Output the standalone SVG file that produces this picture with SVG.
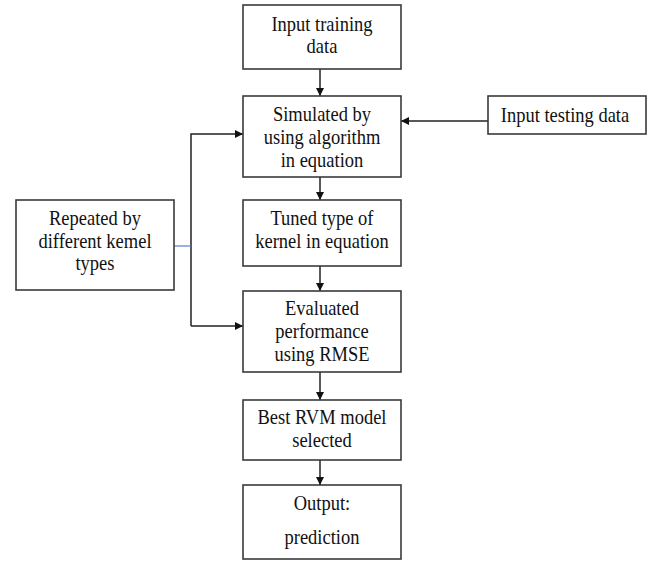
<svg xmlns="http://www.w3.org/2000/svg" width="649" height="563" viewBox="0 0 649 563">
<defs>
<style>
.box{fill:#fff;stroke:#3a3a3a;stroke-width:1.6}
.t{font-family:'Liberation Serif',Tinos,'Times New Roman',serif;font-size:18.5px;fill:#111;text-anchor:middle;transform-box:fill-box;transform-origin:center;transform:scaleY(1.14)}
.c{fill:none;stroke:#222;stroke-width:1.5}
.blue{fill:none;stroke:#5b7fc7;stroke-width:1.2}
</style>
<marker id="ah" viewBox="0 0 10 10" refX="10" refY="5" markerWidth="8" markerHeight="8" markerUnits="userSpaceOnUse" orient="auto">
<path d="M0,0 L10,5 L0,10 z" fill="#111"/>
</marker>
</defs>
<rect width="649" height="563" fill="#fff"/>
<g id="connectors">
<line class="c" x1="320" y1="69" x2="320" y2="96" marker-end="url(#ah)"/>
<line class="c" x1="488" y1="121" x2="401" y2="121" marker-end="url(#ah)"/>
<line class="c" x1="320" y1="177" x2="320" y2="200" marker-end="url(#ah)"/>
<line class="c" x1="320" y1="266" x2="320" y2="291" marker-end="url(#ah)"/>
<line class="c" x1="320" y1="372" x2="320" y2="400" marker-end="url(#ah)"/>
<line class="c" x1="320" y1="460" x2="320" y2="485" marker-end="url(#ah)"/>
<polyline class="c" points="191,326 191,134 243,134" marker-end="url(#ah)"/>
<line class="c" x1="191" y1="326" x2="243" y2="326" marker-end="url(#ah)"/>
<line class="blue" x1="174" y1="246" x2="191" y2="246"/>
</g>
<g id="n-train">
<rect class="box" x="243" y="5" width="158" height="64"/>
<text class="t" x="322" y="30" font-family="Liberation Serif, serif">Input training</text>
<text class="t" x="322" y="52" font-family="Liberation Serif, serif">data</text>
</g>
<g id="n-sim">
<rect class="box" x="243" y="96" width="158" height="81"/>
<text class="t" x="322" y="120">Simulated by</text>
<text class="t" x="322" y="143">using algorithm</text>
<text class="t" x="322" y="166">in equation</text>
</g>
<g id="n-test">
<rect class="box" x="488" y="96" width="158" height="38"/>
<text class="t" x="565" y="121">Input testing data</text>
</g>
<g id="n-rep">
<rect class="box" x="16" y="200" width="158" height="90"/>
<text class="t" x="95" y="224">Repeated by</text>
<text class="t" x="95" y="247">different kemel</text>
<text class="t" x="95" y="269">types</text>
</g>
<g id="n-tune">
<rect class="box" x="243" y="200" width="158" height="66"/>
<text class="t" x="322" y="224">Tuned type of</text>
<text class="t" x="322" y="247">kernel in equation</text>
</g>
<g id="n-eval">
<rect class="box" x="243" y="291" width="158" height="81"/>
<text class="t" x="322" y="314">Evaluated</text>
<text class="t" x="322" y="337">performance</text>
<text class="t" x="322" y="360">using RMSE</text>
</g>
<g id="n-best">
<rect class="box" x="243" y="400" width="158" height="60"/>
<text class="t" x="322" y="423">Best RVM model</text>
<text class="t" x="322" y="446">selected</text>
</g>
<g id="n-out">
<rect class="box" x="243" y="485" width="158" height="74"/>
<text class="t" x="322" y="509">Output:</text>
<text class="t" x="322" y="543">prediction</text>
</g>
</svg>
